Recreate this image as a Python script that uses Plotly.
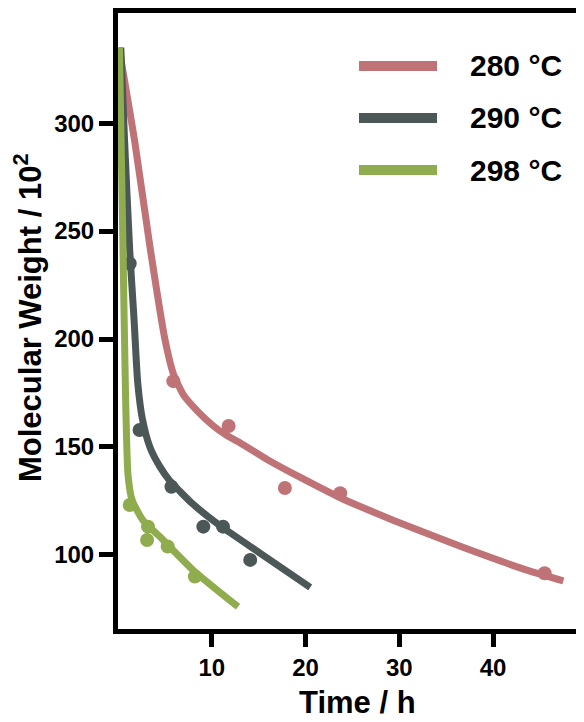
import plotly.graph_objects as go

# ---- data ----
series_names = ["280 °C", "290 °C", "298 °C"]
series_colors = ["#C07376", "#4B5857", "#8FAD4E"]

# measured points (Time / h, Molecular weight / 10^2)
t280 = [5.9, 11.8, 17.8, 23.7, 45.5]
m280 = [180.5, 159.7, 131.0, 128.6, 91.5]
t290 = [1.25, 2.3, 5.7, 9.1, 11.2, 14.1]
m290 = [235.0, 157.9, 131.6, 113.1, 113.1, 97.7]
t298 = [1.25, 3.2, 3.1, 5.3, 8.2]
m298 = [123.1, 113.1, 106.9, 103.9, 90.0]

# fitted curves
fit280_t = [0.1, 1.8, 3.4, 5.0, 5.9, 7.0, 8.5, 10.1, 11.5, 13.0, 16.0, 19.4, 23.7, 29.4, 36.5, 43.6, 47.5]
fit280_m = [335, 291, 243, 200, 184, 174, 166.5, 160, 155.6, 152, 144, 136, 126.5, 116, 104, 93, 88]
fit290_t = [0.3, 0.7, 1.25, 1.7, 2.1, 2.6, 3.4, 4.45, 5.5, 6.6, 8.0, 10.9, 15.1, 20.5]
fit290_m = [335, 292, 241, 210, 180, 163, 150, 141, 134.5, 129.5, 123.5, 113.5, 101, 85]
fit298_t = [0.15, 0.5, 0.8, 1.07, 1.5, 2.67, 4.45, 8.0, 12.8]
fit298_m = [335, 250, 175, 137, 125.5, 116, 108.5, 93, 76]

x_ticks = [10, 20, 30, 40]
y_ticks = [100, 150, 200, 250, 300]
x_title = "Time / h"
y_title = "Molecular Weight / 10<sup>2</sup>"

fits = [(fit280_t, fit280_m), (fit290_t, fit290_m), (fit298_t, fit298_m)]
pts = [(t280, m280), (t290, m290), (t298, m298)]

fig = go.Figure()
for (ft, fm), (pt, pm), col, name in zip(fits, pts, series_colors, series_names):
    fig.add_trace(go.Scatter(x=pt, y=pm, mode="markers", name=name,
                             marker=dict(color=col, size=14), showlegend=False))
    fig.add_trace(go.Scatter(x=ft, y=fm, mode="lines", name=name,
                             line=dict(color=col, width=7, shape="spline", smoothing=0.6),
                             showlegend=False))

# page body has an 8px margin: figure is drawn 8px inside the window
OFF = 8
W, H = 584 - OFF, 722 - OFF
L, T = 118 - OFF, 13 - OFF
R, B = 0, H - (629 - OFF)
pw, ph = W - L - R, H - T - B

def px_x(p):
    return (p - OFF - L) / pw

def px_y(p):
    return (H - B - (p - OFF)) / ph

# manual legend
leg_y = [66, 118, 170]
for name, col, yy in zip(series_names, series_colors, leg_y):
    fig.add_shape(type="line", xref="paper", yref="paper",
                  x0=px_x(359), x1=px_x(437), y0=px_y(yy), y1=px_y(yy),
                  line=dict(color=col, width=10))
    fig.add_annotation(xref="paper", yref="paper", x=px_x(468), y=px_y(yy),
                       xanchor="left", yanchor="middle", showarrow=False, text=name,
                       font=dict(family="Liberation Sans", size=30, color="black", weight="bold"))

# axis titles
fig.add_annotation(xref="paper", yref="paper", x=px_x(357), y=px_y(702),
                   xanchor="center", yanchor="middle", showarrow=False, text=x_title,
                   font=dict(family="Liberation Sans", size=31, color="black", weight="bold"))
fig.add_annotation(xref="paper", yref="paper", x=px_x(28), y=px_y(318),
                   xanchor="center", yanchor="middle", showarrow=False, text=y_title,
                   textangle=-90,
                   font=dict(family="Liberation Sans", size=31, color="black", weight="bold"))

tickfont = dict(family="Liberation Sans", size=24, color="black", weight="bold")
fig.update_layout(
    width=W, height=H,
    margin=dict(l=L, r=R, t=T, b=B, pad=0),
    paper_bgcolor="white", plot_bgcolor="white",
    showlegend=False,
    xaxis=dict(range=[0, 49.7], tickvals=x_ticks, ticks="outside", ticklen=13, tickwidth=5,
               tickcolor="black", showline=True, linewidth=5, linecolor="black", mirror=True,
               showgrid=False, zeroline=False, tickfont=tickfont),
    yaxis=dict(range=[65.7, 351], tickvals=y_ticks, ticks="outside", ticklen=14, tickwidth=5,
               tickcolor="black", showline=True, linewidth=5, linecolor="black",
               showgrid=False, zeroline=False, tickfont=tickfont),
)

fig.write_html("out.html")
